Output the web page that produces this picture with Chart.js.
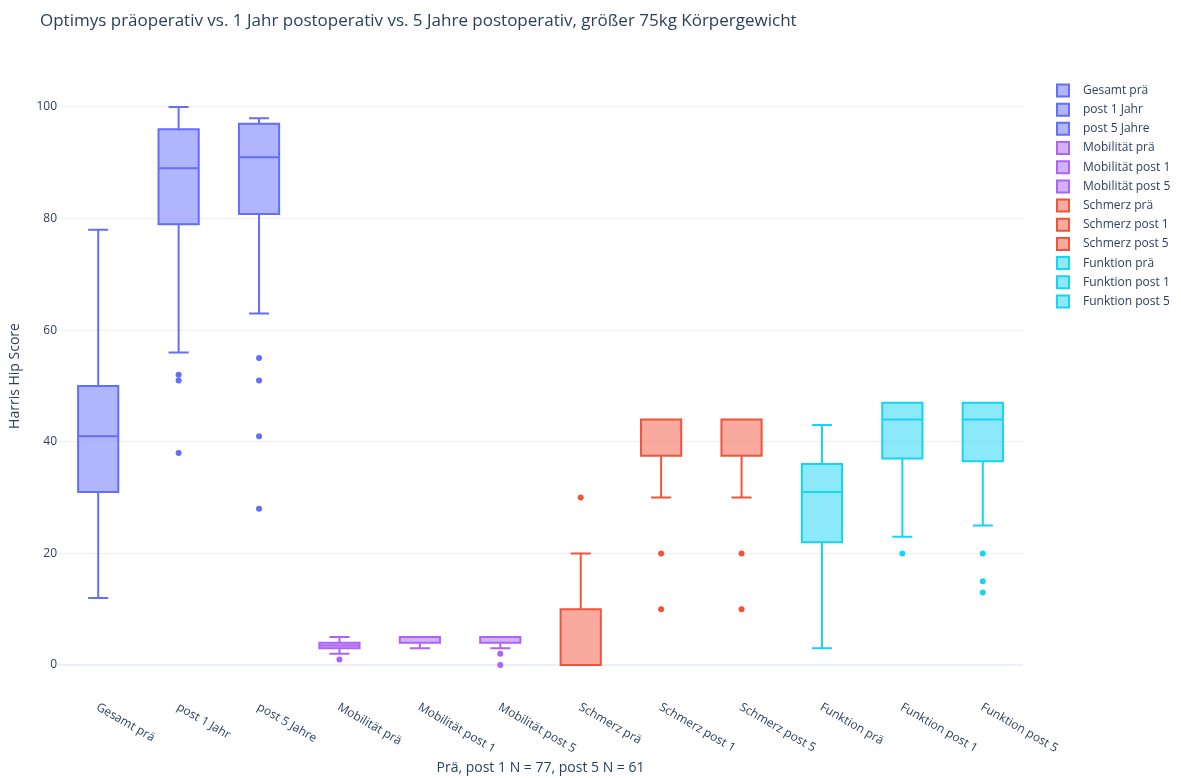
<!DOCTYPE html>
<html lang="de">
<head>
  <meta charset="UTF-8">
  <title>Optimys Harris Hip Score</title>
  <script src="https://cdn.jsdelivr.net/npm/chart.js"></script>
  <style>
    html, body { margin: 0; padding: 0; background: #fff; }
    #wrap { width: 1181px; height: 778px; }
  </style>
</head>
<body>
  <div id="wrap"><canvas id="boxChart" width="1181" height="778"></canvas></div>

  <script>
    const TITLE = 'Optimys präoperativ vs. 1 Jahr postoperativ vs. 5 Jahre postoperativ, größer 75kg Körpergewicht';

    const categories = ['Gesamt prä', 'post 1 Jahr', 'post 5 Jahre',
      'Mobilität prä', 'Mobilität post 1', 'Mobilität post 5',
      'Schmerz prä', 'Schmerz post 1', 'Schmerz post 5',
      'Funktion prä', 'Funktion post 1', 'Funktion post 5'];
    const legendLabels = ['Gesamt prä', 'post 1 Jahr', 'post 5 Jahre',
      'Mobilität prä', 'Mobilität post 1', 'Mobilität post 5',
      'Schmerz prä', 'Schmerz post 1', 'Schmerz post 5',
      'Funktion prä', 'Funktion post 1', 'Funktion post 5'];

    // box statistics per category
    const lowerFence = [12, 56, 63, 2, 3, 3, 0, 30, 30, 3, 23, 25];
    const q1 = [31, 79, 80.8, 3, 4, 4, 0, 37.5, 37.5, 22, 37, 36.5];
    const median = [41, 89, 91, 3.5, 5, 5, 10, 44, 44, 31, 44, 44];
    const q3 = [50, 96, 97, 4, 5, 5, 10, 44, 44, 36, 47, 47];
    const upperFence = [78, 100, 98, 5, 5, 5, 20, 44, 44, 43, 47, 47];
    const outliers = [[], [52, 51, 38], [55, 51, 41, 28], [1], [], [2, 0],
      [30], [20, 10], [20, 10], [], [20], [20, 15, 13]];

    const yTicks = [0, 20, 40, 60, 80, 100];

    const colors = ['#636efa', '#636efa', '#636efa', '#ab63fa', '#ab63fa', '#ab63fa',
      '#EF553B', '#EF553B', '#EF553B', '#19d3f3', '#19d3f3', '#19d3f3'];
    const fills = ['rgba(99,110,250,0.5)', 'rgba(99,110,250,0.5)', 'rgba(99,110,250,0.5)',
      'rgba(171,99,250,0.5)', 'rgba(171,99,250,0.5)', 'rgba(171,99,250,0.5)',
      'rgba(239,85,59,0.5)', 'rgba(239,85,59,0.5)', 'rgba(239,85,59,0.5)',
      'rgba(25,211,243,0.5)', 'rgba(25,211,243,0.5)', 'rgba(25,211,243,0.5)'];

    const TEXT = '#2a3f5f';
    const FONT = '"Open Sans", verdana, arial, sans-serif';
    Chart.defaults.font.family = FONT;
    Chart.defaults.color = TEXT;

    const boxSets = categories.map((c, i) => ({
      type: 'bar',
      label: legendLabels[i],
      data: categories.map((_, j) => j === i ? [q1[i], q3[i]] : null),
      backgroundColor: fills[i],
      borderColor: colors[i],
      borderWidth: 0,
      borderSkipped: false,
      grouped: false,
      barPercentage: 0.5,
      categoryPercentage: 1,
      order: 2
    }));

    const outlierSets = categories.map((c, i) => ({
      type: 'scatter',
      label: legendLabels[i] + ' Ausreißer',
      data: outliers[i].map(v => ({ x: c, y: v })),
      backgroundColor: colors[i],
      borderWidth: 0,
      pointRadius: 3,
      order: 1
    }));

    // box outline, whiskers + median, drawn on the bar elements
    const boxWhiskers = {
      id: 'boxWhiskers',
      afterDatasetsDraw(chart) {
        const ctx = chart.ctx;
        const y = chart.scales.y;
        ctx.save();
        ctx.lineWidth = 2;
        categories.forEach((c, i) => {
          const bar = chart.getDatasetMeta(i).data[i];
          if (!bar) return;
          const half = bar.width / 2;
          const yq1 = y.getPixelForValue(q1[i]);
          const yq3 = y.getPixelForValue(q3[i]);
          ctx.strokeStyle = colors[i];
          ctx.beginPath();
          ctx.rect(bar.x - half, yq3, bar.width, yq1 - yq3);
          // median
          ctx.moveTo(bar.x - half, y.getPixelForValue(median[i]));
          ctx.lineTo(bar.x + half, y.getPixelForValue(median[i]));
          // upper whisker
          if (upperFence[i] > q3[i]) {
            ctx.moveTo(bar.x, yq3);
            ctx.lineTo(bar.x, y.getPixelForValue(upperFence[i]));
            ctx.moveTo(bar.x - half / 2, y.getPixelForValue(upperFence[i]));
            ctx.lineTo(bar.x + half / 2, y.getPixelForValue(upperFence[i]));
          }
          // lower whisker
          if (lowerFence[i] < q1[i]) {
            ctx.moveTo(bar.x, yq1);
            ctx.lineTo(bar.x, y.getPixelForValue(lowerFence[i]));
            ctx.moveTo(bar.x - half / 2, y.getPixelForValue(lowerFence[i]));
            ctx.lineTo(bar.x + half / 2, y.getPixelForValue(lowerFence[i]));
          }
          ctx.stroke();
        });
        ctx.restore();
      }
    };

    // title, rotated category labels, legend
    const decorations = {
      id: 'decorations',
      afterDraw(chart) {
        const ctx = chart.ctx;
        const x = chart.scales.x;
        ctx.save();
        ctx.fillStyle = TEXT;
        ctx.font = '17px ' + FONT;
        ctx.textBaseline = 'alphabetic';
        ctx.textAlign = 'left';
        ctx.fillText(TITLE, 40, 26);

        ctx.font = '12px ' + FONT;
        ctx.textBaseline = 'top';
        categories.forEach((c, i) => {
          ctx.save();
          ctx.translate(x.getPixelForValue(i) + 2, 701);
          ctx.rotate(Math.PI / 6);
          ctx.fillText(c, 0, 0);
          ctx.restore();
        });

        ctx.textBaseline = 'middle';
        ctx.lineWidth = 2;
        legendLabels.forEach((lab, i) => {
          const cy = 90.5 + i * 19.18;
          ctx.fillStyle = fills[i];
          ctx.strokeStyle = colors[i];
          ctx.beginPath();
          ctx.rect(1057, cy - 6, 12, 12);
          ctx.fill();
          ctx.stroke();
          ctx.fillStyle = TEXT;
          ctx.fillText(lab, 1083, cy);
        });
        ctx.restore();
      }
    };

    new Chart(document.getElementById('boxChart'), {
      type: 'bar',
      data: {
        labels: categories,
        datasets: [...boxSets, ...outlierSets]
      },
      options: {
        responsive: false,
        animation: false,
        events: [],
        layout: { padding: { top: 60, right: 158, left: 0, bottom: 0 } },
        plugins: {
          legend: { display: false },
          tooltip: { enabled: false },
          title: { display: false }
        },
        scales: {
          x: {
            type: 'category',
            offset: true,
            grid: { display: false },
            border: { display: false },
            ticks: { display: false },
            title: {
              display: true,
              text: 'Prä, post 1 N = 77, post 5 N = 61',
              font: { size: 14 },
              color: TEXT,
              padding: { top: 2, bottom: 2 }
            },
            afterFit(scale) { scale.height = 86; }
          },
          y: {
            min: -4.84,
            max: 108.42,
            afterBuildTicks(scale) { scale.ticks = yTicks.map(v => ({ value: v })); },
            grid: {
              color: '#EBF0F8',
              lineWidth: c => (c.tick && c.tick.value === 0) ? 2 : 1,
              drawTicks: false
            },
            border: { display: false },
            ticks: { padding: 1, font: { size: 12 }, color: TEXT },
            title: {
              display: true,
              text: 'Harris Hip Score',
              font: { size: 14 },
              color: TEXT,
              padding: { top: 7, bottom: 7 }
            },
            afterFit(scale) { scale.width = 58; }
          }
        }
      },
      plugins: [boxWhiskers, decorations]
    });
  </script>
</body>
</html>
